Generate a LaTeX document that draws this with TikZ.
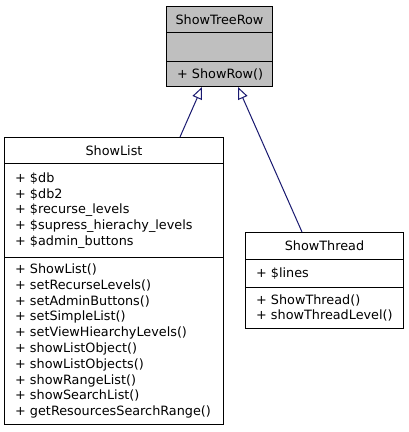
\documentclass[tikz,border=0pt]{standalone}
\usepackage{fontspec}
\setmainfont{DejaVu Sans}
\usetikzlibrary{arrows.meta,calc}
\definecolor{edgeblue}{HTML}{191970}
\definecolor{treegray}{HTML}{BFBFBF}
\newcommand\umlfont{\fontsize{12.8pt}{15.8pt}\selectfont}
\tikzset{
  part/.style={draw=black, line width=1pt, fill=white, anchor=north west,
    inner sep=0pt},
  ttl/.style={inner sep=0pt, font=\umlfont, anchor=center},
  mem/.style={inner sep=0pt, font=\umlfont, align=left, anchor=west},
  inherit/.style={draw=edgeblue, line width=1pt,
    -{Triangle[open, length=12pt, width=10pt]}},
}
\begin{document}
\begin{tikzpicture}[x=1pt,y=-1pt]
\useasboundingbox[fill=white] (0,0) rectangle (408,432);
% ShowTreeRow
\node[part, fill=treegray, minimum width=106pt, minimum height=26pt] (trT) at (166,6) {};
\node[part, fill=treegray, minimum width=106pt, minimum height=29pt] (trA) at (166,32) {};
\node[part, fill=treegray, minimum width=106pt, minimum height=25pt] (trM) at (166,61) {};
\node[ttl] (trTt) at (trT.center) {ShowTreeRow};
\node[mem] (trMt) at ($(trM.west)+(11pt,0)$) {+ ShowRow()};
% ShowList
\node[part, minimum width=219pt, minimum height=26pt] (slT) at (4,137) {};
\node[part, minimum width=219pt, minimum height=94pt] (slA) at (4,163) {};
\node[part, minimum width=219pt, minimum height=167pt] (slM) at (4,257) {};
\node[ttl] (slTt) at (slT.center) {ShowList};
\node[mem] (slAt) at ($(slA.west)+(11pt,0)$) {+ \$db\\+ \$db2\\+ \$recurse\_levels\\+ \$supress\_hierachy\_levels\\+ \$admin\_buttons};
\node[mem] (slMt) at ($(slM.west)+(11pt,0)$) {+ ShowList()\\+ setRecurseLevels()\\+ setAdminButtons()\\+ setSimpleList()\\+ setViewHiearchyLevels()\\+ showListObject()\\+ showListObjects()\\+ showRangeList()\\+ showSearchList()\\+ getResourcesSearchRange()};
% ShowThread
\node[part, minimum width=158pt, minimum height=27pt] (stT) at (245,232) {};
\node[part, minimum width=158pt, minimum height=28pt] (stA) at (245,259) {};
\node[part, minimum width=158pt, minimum height=41pt] (stM) at (245,287) {};
\node[ttl] (stTt) at (stT.center) {ShowThread};
\node[mem] (stAt) at ($(stA.west)+(11pt,0)$) {+ \$lines};
\node[mem] (stMt) at ($(stM.west)+(11pt,0)$) {+ ShowThread()\\+ showThreadLevel()};
% inheritance
\draw[inherit] ($(slT.north west)+(176pt,0)$) -- ($(trM.south west)+(36pt,0)$);
\draw[inherit] ($(stT.north west)+(57pt,0)$) -- ($(trM.south west)+(72pt,0)$);
\end{tikzpicture}
\end{document}
